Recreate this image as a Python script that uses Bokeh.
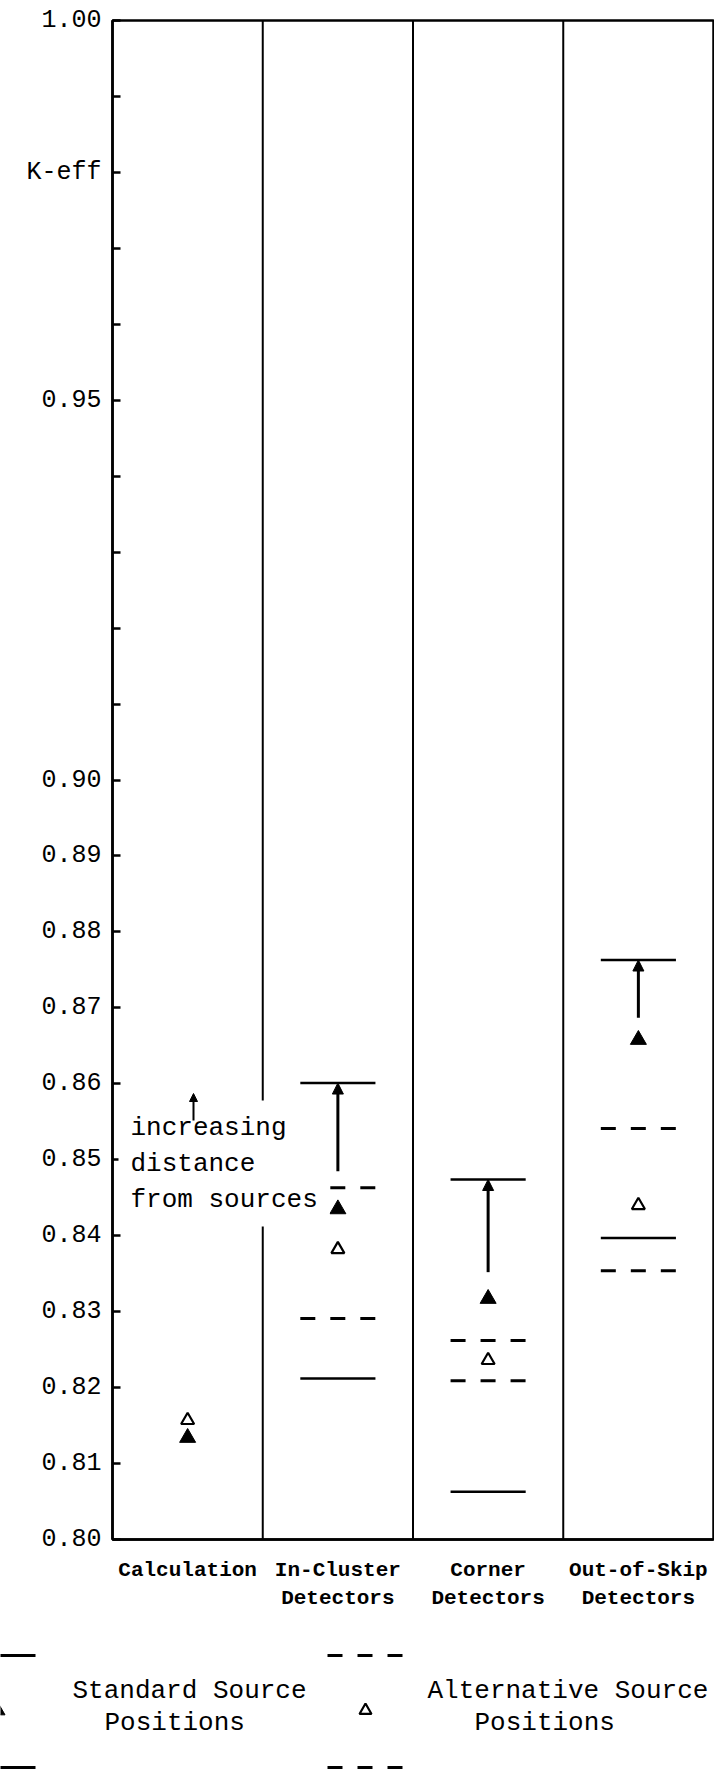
from bokeh.plotting import figure
from bokeh.models import Range1d, FixedTicker, ColumnDataSource, Arrow, NormalHead, Label
from bokeh.layouts import column
from bokeh.embed import file_html
from bokeh.resources import INLINE

# ---- data -------------------------------------------------------------
categories = ["Calculation", "In-Cluster Detectors", "Corner Detectors", "Out-of-Skip Detectors"]
category_labels = ["Calculation", "In-Cluster\nDetectors", "Corner\nDetectors", "Out-of-Skip\nDetectors"]

# K-eff, standard source positions (filled triangles)
standard_keff = [0.8134, 0.8435, 0.8317, 0.8658]
# K-eff, alternative source positions (open triangles)
alternative_keff = [0.8157, 0.8382, 0.8236, 0.8440]

# detector ranges: standard positions (solid bars), alternative positions (dashed bars)
standard_low = [None, 0.8212, 0.8063, 0.8397]
standard_high = [None, 0.8601, 0.8474, 0.8763]
alternative_low = [None, 0.8291, 0.8209, 0.8354]
alternative_high = [None, 0.8463, 0.8262, 0.8541]

# arrows: increasing distance from sources
arrow_from = [None, 0.8485, 0.8352, 0.8687]
arrow_to = [None, 0.8601, 0.8474, 0.8763]

y_ticks = [round(0.80 + 0.01 * i, 2) for i in range(21)]
y_labelled = [0.80, 0.81, 0.82, 0.83, 0.84, 0.85, 0.86, 0.87, 0.88, 0.89, 0.90, 0.95, 1.00]
y_axis_title = "K-eff"
y_axis_title_at = 0.98

note_text = "increasing\ndistance\nfrom sources"
legend_titles = [["Standard Source", "Positions"], ["Alternative Source", "Positions"]]

# ---- page geometry (pixels) ------------------------------------------------
W, H = 714, 1771
CHART_H = 1619
FRAME_L, FRAME_R, FRAME_T, FRAME_B = 112, 713, 20, 1539
Y0, Y1 = 0.80, 1.00
NCOL = len(categories)

MONO = "Liberation Mono"
BAR_HALF = 0.25
DASH = "15 15"


def x_of(px):
    """page pixel column -> data x"""
    return (px - FRAME_L) / (FRAME_R - FRAME_L) * NCOL


def y_of(py):
    """page pixel row -> data y"""
    return Y1 - (py - FRAME_T) / (FRAME_B - FRAME_T) * (Y1 - Y0)


# ---- chart -------------------------------------------------------------
p = figure(width=W, height=CHART_H, x_range=Range1d(0, NCOL), y_range=Range1d(Y0, Y1),
           output_backend="svg", toolbar_location=None, title=None,
           min_border_left=FRAME_L, min_border_right=W - FRAME_R,
           min_border_top=FRAME_T, min_border_bottom=CHART_H - FRAME_B,
           background_fill_color="white", border_fill_color="white")
p.frame_align = False
p.xgrid.visible = False
p.ygrid.visible = False
p.outline_line_color = "black"
p.outline_line_width = 2.5

yax = p.yaxis[0]
yax.ticker = FixedTicker(ticks=y_ticks)
overrides = {t: "" for t in y_ticks}
for t in y_labelled:
    overrides[round(t, 2)] = f"{t:.2f}"
overrides[y_axis_title_at] = y_axis_title
yax.major_label_overrides = overrides
yax.major_tick_in = 8
yax.major_tick_out = 0
yax.minor_tick_line_color = None
yax.major_tick_line_width = 2.5
yax.axis_line_width = 2.5
yax.major_label_standoff = 11
yax.major_label_text_font = MONO
yax.major_label_text_font_size = "25px"
yax.major_label_text_color = "black"

xax = p.xaxis[0]
centers = [i + 0.5 for i in range(NCOL)]
xax.ticker = FixedTicker(ticks=centers)
xax.major_label_overrides = {c: lab for c, lab in zip(centers, category_labels)}
xax.major_tick_line_color = None
xax.minor_tick_line_color = None
xax.axis_line_width = 2.5
xax.major_label_standoff = 13
xax.major_label_text_font = MONO
xax.major_label_text_font_style = "bold"
xax.major_label_text_font_size = "21px"
xax.major_label_text_color = "black"
xax.major_label_text_line_height = 1.25

# column dividers
dividers = list(range(1, NCOL))
p.segment(x0=dividers, y0=Y0, x1=dividers, y1=Y1, line_color="black", line_width=2)

# range bars
idx = [i for i in range(NCOL) if standard_low[i] is not None]
bx0 = [centers[i] - BAR_HALF for i in idx]
bx1 = [centers[i] + BAR_HALF for i in idx]
solid = ColumnDataSource(dict(x0=bx0 + bx0, x1=bx1 + bx1,
                              y=[standard_low[i] for i in idx] + [standard_high[i] for i in idx]))
dashed = ColumnDataSource(dict(x0=bx0 + bx0, x1=bx1 + bx1,
                               y=[alternative_low[i] for i in idx] + [alternative_high[i] for i in idx]))
p.segment(x0="x0", y0="y", x1="x1", y1="y", source=solid, line_color="black", line_width=2.5)
p.segment(x0="x0", y0="y", x1="x1", y1="y", source=dashed, line_color="black",
          line_width=3, line_dash=DASH)

# triangles
p.scatter(x=centers, y=standard_keff, marker="triangle", size=16,
          fill_color="black", line_color="black", line_width=1)
p.scatter(x=centers, y=alternative_keff, marker="triangle", size=13,
          fill_color="white", line_color="black", line_width=2.2)

# note with a white backing that interrupts the first divider
note = Label(x=x_of(118), y=y_of(1163), text=note_text, text_font=MONO, text_font_size="26px",
             text_align="left", text_baseline="middle", text_line_height=1.2,
             background_fill_color="white", padding=12, text_color="black")
p.add_layout(note)
p.add_layout(Arrow(end=NormalHead(size=8, fill_color="black", line_color="black"),
                   x_start=x_of(193), y_start=y_of(1120), x_end=x_of(193), y_end=y_of(1093),
                   line_width=2, line_color="black"))

# arrows to the top of each standard range
arrows = ColumnDataSource(dict(x=[centers[i] for i in idx],
                               y0=[arrow_from[i] for i in idx],
                               y1=[arrow_to[i] for i in idx]))
p.add_layout(Arrow(end=NormalHead(size=11, fill_color="black", line_color="black"),
                   x_start="x", y_start="y0", x_end="x", y_end="y1", source=arrows,
                   line_width=3, line_color="black"))

# ---- key below the chart (its own canvas, page pixel coordinates) -----------
KEY_H = H - CHART_H
key = figure(width=W, height=KEY_H, x_range=Range1d(0, W), y_range=Range1d(H, CHART_H),
             output_backend="svg", toolbar_location=None, title=None,
             min_border_left=0, min_border_right=0, min_border_top=0, min_border_bottom=0,
             background_fill_color="white", border_fill_color="white")
key.frame_align = False
key.axis.visible = False
key.xgrid.visible = False
key.ygrid.visible = False
key.outline_line_color = None

KEY_HALF = 38
KEY_TOP, KEY_MID, KEY_BOT = 1655, 1710, 1767
key_groups = [
    dict(cx=-3, dash="solid", filled=True, text_x=[72, 104]),
    dict(cx=365, dash=DASH, filled=False, text_x=[427, 474]),
]
for grp, titles in zip(key_groups, legend_titles):
    cx = grp["cx"]
    key.segment(x0=[cx - KEY_HALF] * 2, x1=[cx + KEY_HALF] * 2, y0=[KEY_TOP, KEY_BOT],
                y1=[KEY_TOP, KEY_BOT], line_color="black", line_width=3, line_dash=grp["dash"])
    if grp["filled"]:
        key.scatter(x=[cx], y=[KEY_MID], marker="triangle", size=15, fill_color="black",
                    line_color="black")
    else:
        key.scatter(x=[cx], y=[KEY_MID], marker="triangle", size=12, fill_color="white",
                    line_color="black", line_width=2.2)
    key.text(x=grp["text_x"], y=[1690, 1722], text=titles, text_font={"value": MONO},
             text_font_size="26px", text_align="left", text_baseline="middle",
             text_color="black")

layout = column(p, key, spacing=0)
open("out.html", "w").write(file_html(layout, INLINE))
